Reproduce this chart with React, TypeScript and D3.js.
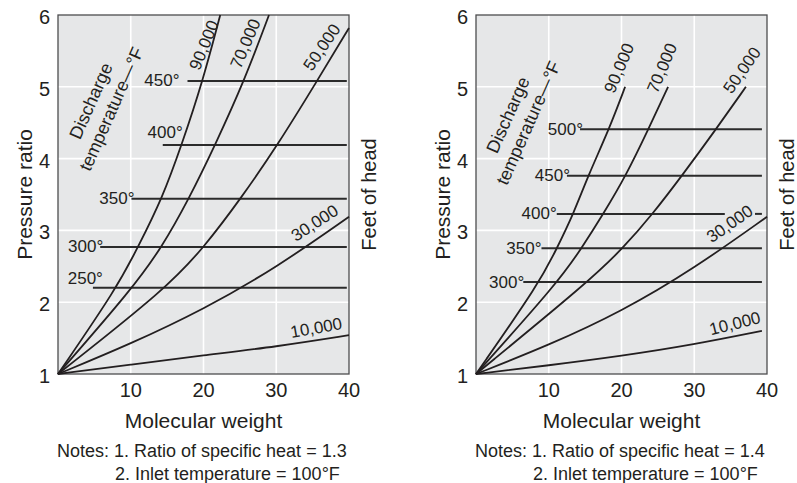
import React from "react";
import * as d3 from "d3";

// ---------- shared axis data ----------
const mwTicks = [10, 20, 30, 40];
const ratioTicks = [1, 2, 3, 4, 5, 6];
const gridMW = [10, 20, 30];
const gridRatio = [2, 3, 4, 5];
const headNames = ["90,000", "70,000", "50,000", "30,000", "10,000"];

// ---------- left panel (k = 1.3) ----------
const mw90L = [0, 8.1, 11.0, 14.3, 17.0, 19.9, 22.3];
const pr90L = [1, 2.2, 2.77, 3.44, 4.19, 5.08, 6.0];
const mw70L = [0, 10.3, 14.3, 18.0, 21.6, 25.6, 29.0];
const pr70L = [1, 2.2, 2.77, 3.44, 4.19, 5.08, 6.0];
const mw50L = [0, 15.0, 20.1, 25.1, 30.2, 35.6, 40];
const pr50L = [1, 2.2, 2.77, 3.44, 4.19, 5.08, 5.82];
const mw30L = [0, 10, 20, 30, 40];
const pr30L = [1, 1.42, 1.9, 2.48, 3.19];
const mw10L = [0, 10, 20, 30, 40];
const pr10L = [1, 1.13, 1.26, 1.38, 1.54];
const tempNamesL = ["450°", "400°", "350°", "300°", "250°"];
const tempRatioL = [5.08, 4.19, 3.44, 2.77, 2.2];
const tempStartL = [17.8, 14.4, 10.1, 5.8, 4.8];
const tempEndL = [39.7, 39.7, 39.7, 39.7, 39.7];

// ---------- right panel (k = 1.4) ----------
const mw90R = [0, 8.8, 11.1, 13.4, 15.4, 18.3, 20.5];
const pr90R = [1, 2.28, 2.75, 3.23, 3.76, 4.41, 5.0];
const mw70R = [0, 11.3, 14.5, 17.5, 20.6, 23.7, 26.4];
const pr70R = [1, 2.28, 2.75, 3.23, 3.76, 4.41, 5.0];
const mw50R = [0, 15.4, 20.2, 24.3, 28.3, 33.0, 37.1];
const pr50R = [1, 2.28, 2.75, 3.23, 3.76, 4.41, 5.0];
const mw30R = [0, 10, 20, 30, 40];
const pr30R = [1, 1.4, 1.87, 2.47, 3.19];
const mw10R = [0, 10, 20, 30, 39.3];
const pr10R = [1, 1.12, 1.25, 1.41, 1.6];
const tempNamesR = ["500°", "450°", "400°", "350°", "300°"];
const tempRatioR = [4.41, 3.76, 3.23, 2.75, 2.28];
const tempStartR = [14.3, 12.5, 11.1, 9.0, 6.5];
const tempEndR = [39.3, 39.3, 34.2, 39.3, 39.3];
const tempExtraR = [null, null, [38.35, 39.3], null, null];

// ---------- layout (positions / styles) ----------
const W = 797;
const H = 483;
const TOP = 15;
const BOTTOM = 374;
const PW = 291;
const FONT = "'Liberation Sans', Arial, Helvetica, sans-serif";
const INK = "#231f20";

// label anchors in data units: [mw, ratio, rotation]
const headLabelPosL = [
  [20.1, 5.58, -68],
  [25.8, 5.6, -67],
  [36.3, 5.55, -56],
  [35.3, 3.1, -33],
  [35.5, 1.64, -10],
];
const headLabelPosR = [
  [19.7, 5.26, -67],
  [25.6, 5.26, -67],
  [36.6, 5.23, -55],
  [34.9, 3.09, -35],
  [35.6, 1.7, -14],
];
// temp labels: [dx from line start (end anchor), dy]
const tempLabelOffL = [
  [-8, -1],
  [20, -12],
  [3, 0],
  [3, 0],
  [10, -9],
];
const tempLabelOffR = [
  [3, 0],
  [3, 0],
  [0, 0],
  [0, 0],
  [1, 0],
];

type PanelProps = {
  x0: number;
  mws: number[][];
  prs: number[][];
  labelPos: number[][];
  tempNames: string[];
  tempRatio: number[];
  tempStart: number[];
  tempEnd: number[];
  tempExtra: (number[] | null)[];
  tempOff: number[][];
  discharge: [number, number];
  k: string;
};

function Panel(p: PanelProps) {
  const x = d3.scaleLinear().domain([0, 40]).range([p.x0, p.x0 + PW]);
  const y = d3.scaleLinear().domain([1, 6]).range([BOTTOM, TOP]);
  const line = d3
    .line<[number, number]>()
    .x((d) => x(d[0]))
    .y((d) => y(d[1]))
    .curve(d3.curveBasis);
  const midY = (TOP + BOTTOM) / 2;
  return (
    <g fontFamily={FONT} fill={INK}>
      <rect x={p.x0} y={TOP} width={PW} height={BOTTOM - TOP} fill="#e6e7e8" />
      {gridMW.map((g) => (
        <line key={"gx" + g} x1={x(g)} x2={x(g)} y1={TOP} y2={BOTTOM} stroke="#fff" strokeWidth={1.6} />
      ))}
      {gridRatio.map((g) => (
        <line key={"gy" + g} x1={p.x0} x2={p.x0 + PW} y1={y(g)} y2={y(g)} stroke="#fff" strokeWidth={1.6} />
      ))}
      <rect x={p.x0} y={TOP} width={PW} height={BOTTOM - TOP} fill="none" stroke="#4d4d4f" strokeWidth={1.3} />
      {p.tempNames.map((t, i) => (
        <g key={"t" + i}>
          <line x1={x(p.tempStart[i])} x2={x(p.tempEnd[i])} y1={y(p.tempRatio[i])} y2={y(p.tempRatio[i])} stroke="#2b2b2b" strokeWidth={2} />
          {p.tempExtra[i] ? (
            <line x1={x(p.tempExtra[i]![0])} x2={x(p.tempExtra[i]![1])} y1={y(p.tempRatio[i])} y2={y(p.tempRatio[i])} stroke="#2b2b2b" strokeWidth={2} />
          ) : null}
          <text
            x={x(p.tempStart[i]) + p.tempOff[i][0]}
            y={y(p.tempRatio[i]) + p.tempOff[i][1]}
            textAnchor="end"
            dominantBaseline="central"
            fontSize={17}
          >
            {t}
          </text>
        </g>
      ))}
      {p.mws.map((mw, i) => (
        <path
          key={"c" + i}
          d={line(mw.map((m, j) => [m, p.prs[i][j]] as [number, number])) || ""}
          fill="none"
          stroke={INK}
          strokeWidth={1.8}
        />
      ))}
      {headNames.map((n, i) => (
        <text
          key={"hl" + i}
          transform={`translate(${x(p.labelPos[i][0])},${y(p.labelPos[i][1])}) rotate(${p.labelPos[i][2]})`}
          textAnchor="middle"
          dominantBaseline="central"
          fontSize={17}
        >
          {n}
        </text>
      ))}
      <g transform={`translate(${p.discharge[0]},${p.discharge[1]}) rotate(-66)`} fontSize={18}>
        <text x={0} y={0} textAnchor="middle" dominantBaseline="central">Discharge</text>
        <text x={1} y={22} textAnchor="middle" dominantBaseline="central">temperature—°F</text>
      </g>
      {ratioTicks.map((t) => (
        <text key={"yt" + t} x={p.x0 - 8} y={y(t) + 2} textAnchor="end" dominantBaseline="central" fontSize={20}>
          {t}
        </text>
      ))}
      {mwTicks.map((t) => (
        <text key={"xt" + t} x={x(t)} y={397} textAnchor="middle" fontSize={20}>
          {t}
        </text>
      ))}
      <text x={p.x0 + PW / 2} y={428} textAnchor="middle" fontSize={21}>
        Molecular weight
      </text>
      <text transform={`translate(${p.x0 - 34},${midY}) rotate(-90)`} textAnchor="middle" dominantBaseline="central" fontSize={21}>
        Pressure ratio
      </text>
      <text transform={`translate(${p.x0 + PW + 20},${midY}) rotate(-90)`} textAnchor="middle" dominantBaseline="central" fontSize={20}>
        Feet of head
      </text>
      <text x={p.x0 - 1} y={457} fontSize={18}>
        {`Notes: 1. Ratio of specific heat = ${p.k}`}
      </text>
      <text x={p.x0 + 57} y={480} fontSize={18}>
        2. Inlet temperature = 100°F
      </text>
    </g>
  );
}

export default function App() {
  return (
    <svg width={W} height={H} style={{ position: "absolute", left: 0, top: 0, background: "#fff" }}>
      <Panel
        x0={58}
        mws={[mw90L, mw70L, mw50L, mw30L, mw10L]}
        prs={[pr90L, pr70L, pr50L, pr30L, pr10L]}
        labelPos={headLabelPosL}
        tempNames={tempNamesL}
        tempRatio={tempRatioL}
        tempStart={tempStartL}
        tempEnd={tempEndL}
        tempExtra={[null, null, null, null, null]}
        tempOff={tempLabelOffL}
        discharge={[91, 101]}
        k="1.3"
      />
      <Panel
        x0={476}
        mws={[mw90R, mw70R, mw50R, mw30R, mw10R]}
        prs={[pr90R, pr70R, pr50R, pr30R, pr10R]}
        labelPos={headLabelPosR}
        tempNames={tempNamesR}
        tempRatio={tempRatioR}
        tempStart={tempStartR}
        tempEnd={tempEndR}
        tempExtra={tempExtraR}
        tempOff={tempLabelOffR}
        discharge={[508, 115]}
        k="1.4"
      />
    </svg>
  );
}
